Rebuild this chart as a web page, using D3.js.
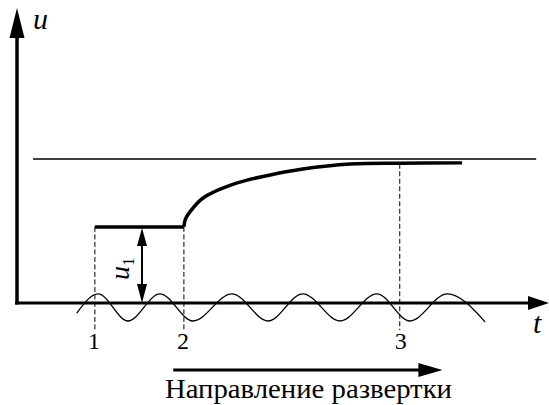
<!DOCTYPE html>
<html><head><meta charset="utf-8">
<script src="https://cdn.jsdelivr.net/npm/d3@7"></script>
<style>body{margin:0;background:#fff}svg{display:block}
text{font-family:"Liberation Serif","DejaVu Serif","Times New Roman",Times,serif}</style>
</head><body>
<svg id="c" width="549" height="405"></svg>
<script>
// ---- data (abstract units: t 0..10, u 0..10) ----
const markerLabels = ["1", "2", "3"];
const markerT = [1.48, 3.15, 7.20];
const markerTopU = [2.58, 2.58, 4.72];
const u1Level = 2.58;
const refLevel = 4.88;
const refRange = [0.32, 9.76];
const stepT = [1.48, 3.15];
const riseT = [3.15, 3.18, 3.26, 3.51, 4.15, 4.77, 5.38, 6.27, 7.20, 8.37];
const riseU = [2.58, 2.85, 3.08, 3.56, 4.07, 4.34, 4.54, 4.71, 4.74, 4.75];
const waveT = [1.14, 1.54, 2.10, 2.70, 3.32, 4.05, 4.73, 5.38, 6.08, 6.77, 7.39, 8.09, 8.80];
const waveU = [-0.34, 0.31, -0.61, 0.31, -0.61, 0.31, -0.61, 0.31, -0.61, 0.31, -0.61, 0.31, -0.64];
const axisLabels = { y: "u", x: "t" };
const u1Label = { main: "u", sub: "1" };
const directionText = "Направление развертки";
const directionRange = [2.95, 8.0];

// ---- scales ----
const x = d3.scaleLinear().domain([0, 10]).range([16, 549]);
const y = d3.scaleLinear().domain([0, 10]).range([303, 8]);
const svg = d3.select("#c");

// axes
svg.append("line").attr("x1", x(0) + 1).attr("x2", x(0) + 1).attr("y1", y(0) + 1.5).attr("y2", y(9.2))
  .attr("stroke", "#000").attr("stroke-width", 3.5);
svg.append("path").attr("d", `M${x(0)+1},${y(10)} L${x(0)+1-7.5},${y(10)+30} L${x(0)+1+7.5},${y(10)+30} Z`)
  .attr("fill", "#000");
svg.append("line").attr("x1", x(0) - 1).attr("x2", x(9.7)).attr("y1", y(0)).attr("y2", y(0))
  .attr("stroke", "#000").attr("stroke-width", 3);
svg.append("path").attr("d", `M${x(10)},${y(0)} L${x(10)-21},${y(0)-7} L${x(10)-21},${y(0)+7} Z`)
  .attr("fill", "#000");

svg.append("text").attr("x", 33).attr("y", 29).attr("font-style", "italic")
  .attr("font-size", 30).text(axisLabels.y);
svg.append("text").attr("x", 533).attr("y", 333).attr("font-style", "italic")
  .attr("font-size", 30).text(axisLabels.x);

// reference line
svg.append("line").attr("x1", x(refRange[0])).attr("x2", x(refRange[1]))
  .attr("y1", y(refLevel)).attr("y2", y(refLevel)).attr("stroke", "#000").attr("stroke-width", 1.5);

// wave
const waveData = waveT.map((t, i) => [t, waveU[i]]);
svg.append("path").datum(waveData)
  .attr("d", d3.line().x(d => x(d[0])).y(d => y(d[1])).curve(d3.curveMonotoneX))
  .attr("fill", "none").attr("stroke", "#000").attr("stroke-width", 1.3);

// dashed markers
markerT.forEach((t, i) => {
  svg.append("line").attr("x1", x(t)).attr("x2", x(t)).attr("y1", y(markerTopU[i])).attr("y2", 330)
    .attr("stroke", "#000").attr("stroke-width", 1).attr("stroke-dasharray", "5,2.5");
  svg.append("text").attr("x", x(t) - 1 + (i === 2 ? 2 : 0)).attr("y", 349).attr("text-anchor", "middle")
    .attr("font-size", 24).text(markerLabels[i]);
});

// thick signal
svg.append("line").attr("x1", x(stepT[0])).attr("x2", x(stepT[1])).attr("y1", y(u1Level)).attr("y2", y(u1Level))
  .attr("stroke", "#000").attr("stroke-width", 3.5);
const riseData = riseT.map((t, i) => [t, riseU[i]]);
svg.append("path").datum(riseData)
  .attr("d", d3.line().x(d => x(d[0])).y(d => y(d[1])).curve(d3.curveCatmullRom.alpha(0.5)))
  .attr("fill", "none").attr("stroke", "#000").attr("stroke-width", 3.5);

// u1 double arrow
const ax = 142;
svg.append("line").attr("x1", ax).attr("x2", ax).attr("y1", y(u1Level) + 10).attr("y2", y(0) - 10)
  .attr("stroke", "#000").attr("stroke-width", 2);
svg.append("path").attr("d", `M${ax},${y(u1Level)+1} L${ax-5},${y(u1Level)+19} L${ax+5},${y(u1Level)+19} Z`).attr("fill", "#000");
svg.append("path").attr("d", `M${ax},${y(0)} L${ax-5},${y(0)-19} L${ax+5},${y(0)-19} Z`).attr("fill", "#000");
const lt = svg.append("text").attr("transform", "translate(129,280) rotate(-90)")
  .attr("font-style", "italic").attr("font-size", 28);
lt.append("tspan").text(u1Label.main);
lt.append("tspan").attr("font-size", 17).attr("font-style", "normal").attr("dy", 5).text(u1Label.sub);

// direction arrow & text
svg.append("line").attr("x1", x(directionRange[0])).attr("x2", x(directionRange[1]) - 20)
  .attr("y1", 370).attr("y2", 370).attr("stroke", "#000").attr("stroke-width", 3);
svg.append("path").attr("d", `M${x(directionRange[1])},370 L${x(directionRange[1])-24},363 L${x(directionRange[1])-24},377 Z`).attr("fill", "#000");
svg.append("text").attr("x", 165).attr("y", 398).attr("font-size", 27)
  .attr("textLength", 287).attr("lengthAdjust", "spacingAndGlyphs")
  .text(directionText);
</script>
</body></html>
